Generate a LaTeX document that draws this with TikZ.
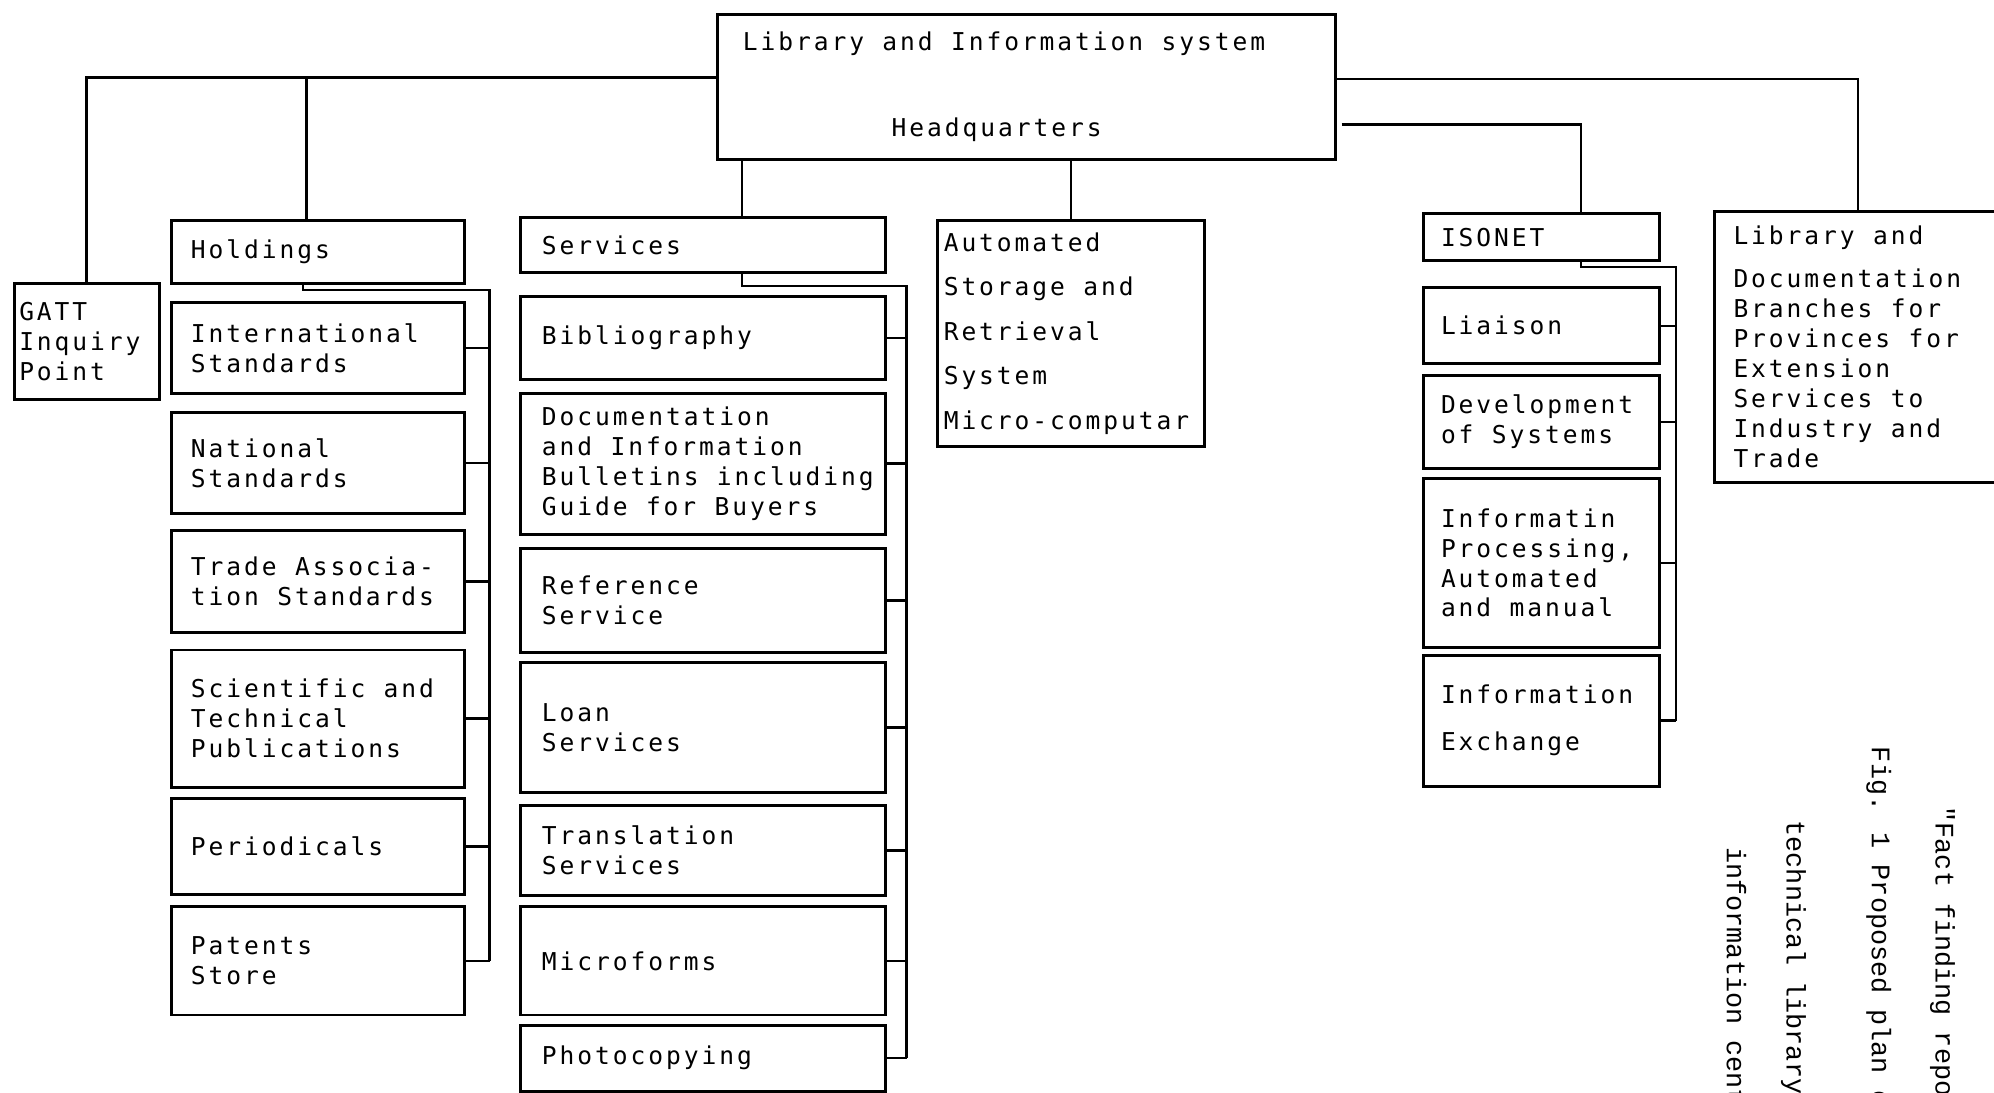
\documentclass[tikz,border=0pt]{standalone}
\usepackage{fontspec}
\newfontfamily\dotface[LetterSpace=12]{DejaVu Sans Mono}
\newfontfamily\capface{Liberation Mono}

\begin{document}
\begin{tikzpicture}[x=0.02cm,y=-0.02cm,
  unit/.style={draw,line width=1.3pt,font={\dotface\fontsize{11}{13.4}\selectfont},execute at begin node={\spaceskip=8.2pt\relax},align=left,anchor=north west,inner ysep=0pt},
  hcol/.style={unit,text width=4cm,inner xsep=0.3cm},
  scol/.style={unit,text width=5.06cm,inner xsep=0.34cm},
  icol/.style={unit,text width=3.16cm,inner xsep=0.28cm},
  link/.style={line width=1.1pt},
  figcap/.style={font={\capface\fontsize{12}{14}\selectfont},rotate=-90,anchor=base west,inner sep=0pt}]
  \useasboundingbox (0,0) rectangle (1568,859);
  \clip (0,0) rectangle (1568,859);

  \node[unit,text width=8.92cm,inner xsep=0.4cm,minimum height=2.28cm] (hq) at (563,10) {Library and Information system\\[0.89cm]\hspace*{2.34cm}Headquarters};
  \node[unit,text width=2.12cm,inner xsep=0.08cm,minimum height=1.82cm] (gatt) at (10,222) {GATT\\Inquiry\\Point};

  \node[hcol,minimum height=1cm] (holdings) at (134,172) {Holdings};
  \node[hcol,minimum height=1.42cm] (intl) at (134,237) {International\\Standards};
  \node[hcol,minimum height=1.6cm] (natl) at (134,323) {National\\Standards};
  \node[hcol,minimum height=1.6cm] (trade) at (134,416) {\mbox{Trade Associa-}\\\mbox{tion Standards}};
  \node[hcol,minimum height=2.16cm] (sci) at (134,510) {\mbox{Scientific and}\\Technical\\Publications};
  \node[hcol,minimum height=1.5cm] (period) at (134,627) {Periodicals};
  \node[hcol,minimum height=1.7cm] (patents) at (134,712) {Patents\\Store};

  \node[scol,minimum height=0.86cm] (services) at (408,170) {Services};
  \node[scol,minimum height=1.3cm] (biblio) at (408,232) {Bibliography};
  \node[scol,minimum height=2.22cm] (docu) at (408,308) {Documentation\\\mbox{and Information}\\\mbox{Bulletins including}\\\mbox{Guide for Buyers}};
  \node[scol,minimum height=1.64cm] (refer) at (408,430) {Reference\\Service};
  \node[scol,minimum height=2.04cm] (loan) at (408,520) {Loan\\Services};
  \node[scol,minimum height=1.42cm] (transl) at (408,632) {Translation\\Services};
  \node[scol,minimum height=1.7cm] (micro) at (408,712) {Microforms};
  \node[scol,minimum height=1.04cm] (photo) at (408,805) {Photocopying};

  \node[unit,text width=4cm,inner xsep=0.1cm,minimum height=3.56cm] (auto) at (736,172) {Automated\\[0.23cm]Storage and\\[0.23cm]Retrieval\\[0.23cm]System\\[0.23cm]Micro-computar};

  \node[icol,minimum height=0.74cm] (isonet) at (1118,167) {ISONET};
  \node[icol,minimum height=1.2cm] (liaison) at (1118,225) {Liaison};
  \node[icol,minimum height=1.46cm] (devel) at (1118,294) {Development\\of Systems};
  \node[icol,minimum height=2.66cm] (proc) at (1118,375) {Informatin\\Processing,\\Automated\\and manual};
  \node[icol,minimum height=2.06cm] (exch) at (1118,514) {Information\\[0.27cm]Exchange};

  \node[unit,text width=3.92cm,inner xsep=0.3cm,minimum height=4.26cm] (branches) at (1347,165) {Library and\\[0.21cm]Documentation\\Branches for\\\mbox{Provinces for}\\Extension\\Services to\\\mbox{Industry and}\\Trade};

  \coordinate (ltrunk) at (563,61);
  \coordinate (rtrunk) at (1049,62);
  \coordinate (rlow) at (1055,98);
  \coordinate (hdrop) at ([xshift=-0.18cm]holdings.north);
  \coordinate (sdrop) at ([xshift=0.62cm]services.north);
  \coordinate (idrop) at ([xshift=0.62cm]isonet.north);
  \draw[link] (ltrunk) -| (gatt.north);
  \draw[link] (hdrop) -- (hdrop |- ltrunk);
  \draw[link] (sdrop) -- (sdrop |- hq.south);
  \draw[link] (auto.north) -- (auto.north |- hq.south);
  \draw[link] (rtrunk) -| (branches.north);
  \draw[link] (rlow) -| (idrop);

  \coordinate (hbus) at (385,228);
  \coordinate (sbus) at (713,225);
  \coordinate (ibus) at (1318,210);
  \draw[link] ([xshift=-0.24cm]holdings.south) |- (hbus) -- (hbus |- patents.east);
  \draw[link] ([xshift=0.62cm]services.south) |- (sbus) -- (sbus |- photo.east);
  \draw[link] ([xshift=0.62cm]isonet.south) |- (ibus) -- (ibus |- exch.east);
  \foreach \n in {intl,natl,trade,sci,period,patents}
    \draw[link] (\n.east) -- (\n.east -| hbus);
  \foreach \n in {biblio,docu,refer,loan,transl,micro,photo}
    \draw[link] (\n.east) -- (\n.east -| sbus);
  \foreach \n in {liaison,devel,proc,exch}
    \draw[link] (\n.east) -- (\n.east -| ibus);

  \node[figcap] (fact) at (1522,634) {"Fact finding repor};
  \node[figcap] (fig) at (1472,587) {Fig. 1 Proposed plan o};
  \node[figcap] (tech) at (1405,645) {technical library a};
  \node[figcap] (centre) at (1358,666) {information centr};
\end{tikzpicture}
\end{document}
